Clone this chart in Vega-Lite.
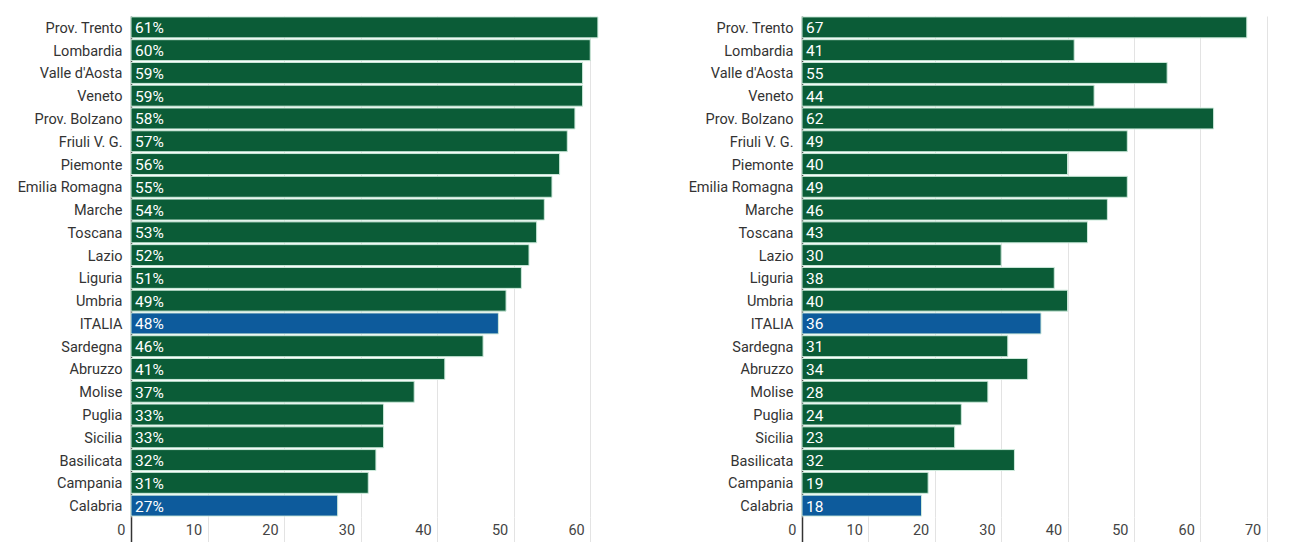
{
  "$schema": "https://vega.github.io/schema/vega-lite/v6.json",
  "padding": {"left": 5, "top": 16, "right": 5, "bottom": 0},
  "background": "white",
  "spacing": 42,
  "config": {
    "font": "Roboto",
    "view": {"stroke": null},
    "axis": {"labelFont": "Roboto"}
  },
  "datasets": {
    "regioni": [
      {"region": "Prov. Trento", "left": 61, "right": 67},
      {"region": "Lombardia", "left": 60, "right": 41},
      {"region": "Valle d'Aosta", "left": 59, "right": 55},
      {"region": "Veneto", "left": 59, "right": 44},
      {"region": "Prov. Bolzano", "left": 58, "right": 62},
      {"region": "Friuli V. G.", "left": 57, "right": 49},
      {"region": "Piemonte", "left": 56, "right": 40},
      {"region": "Emilia Romagna", "left": 55, "right": 49},
      {"region": "Marche", "left": 54, "right": 46},
      {"region": "Toscana", "left": 53, "right": 43},
      {"region": "Lazio", "left": 52, "right": 30},
      {"region": "Liguria", "left": 51, "right": 38},
      {"region": "Umbria", "left": 49, "right": 40},
      {"region": "ITALIA", "left": 48, "right": 36},
      {"region": "Sardegna", "left": 46, "right": 31},
      {"region": "Abruzzo", "left": 41, "right": 34},
      {"region": "Molise", "left": 37, "right": 28},
      {"region": "Puglia", "left": 33, "right": 24},
      {"region": "Sicilia", "left": 33, "right": 23},
      {"region": "Basilicata", "left": 32, "right": 32},
      {"region": "Campania", "left": 31, "right": 19},
      {"region": "Calabria", "left": 27, "right": 18}
    ]
  },
  "hconcat": [
    {
      "width": 509,
      "height": 501,
      "data": {"name": "regioni"},
      "transform": [{"calculate": "datum.left + '%'", "as": "label"}],
      "encoding": {
        "y": {
          "field": "region", "type": "nominal", "sort": null, "title": null,
          "scale": {"paddingInner": 0.08, "paddingOuter": 0.04},
          "axis": {"domain": true, "domainColor": "#333", "domainWidth": 1.5, "ticks": false, "labelPadding": 9, "labelOffset": 1.5, "labelFontSize": 14.5, "labelColor": "#333", "minExtent": 126, "maxExtent": 126}
        },
        "x": {
          "field": "left", "type": "quantitative", "title": null,
          "scale": {"domain": [0, 66.5], "nice": false},
          "axis": {"values": [0, 10, 20, 30, 40, 50, 60], "grid": true, "gridColor": "#e3e3e3", "domain": false, "ticks": true, "tickSize": 25,
            "tickColor": {"condition": {"test": "datum.value === 0", "value": "#333"}, "value": "#e3e3e3"},
            "tickWidth": {"condition": {"test": "datum.value === 0", "value": 1.5}, "value": 1},
            "labelFlush": false,
            "labelAlign": "right", "labelBaseline": "middle", "labelOffset": -6, "labelPadding": -12, "labelFontSize": 14.5, "labelColor": "#444"}
        }
      },
      "layer": [
        {
          "mark": {"type": "bar", "stroke": "#cdeadb", "strokeWidth": 1},
          "encoding": {
            "color": {"condition": {"test": "datum.region === 'ITALIA' || datum.region === 'Calabria'", "value": "#0d5b9c"}, "value": "#0b5c37"}
          }
        },
        {
          "mark": {"type": "text", "align": "left", "dx": 4, "dy": 1, "color": "white", "fontSize": 15.5, "fontWeight": "normal", "baseline": "middle"},
          "encoding": {"x": {"datum": 0, "type": "quantitative"}, "text": {"field": "label"}}
        }
      ]
    },
    {
      "width": 478,
      "height": 501,
      "data": {"name": "regioni"},
      "encoding": {
        "y": {
          "field": "region", "type": "nominal", "sort": null, "title": null,
          "scale": {"paddingInner": 0.08, "paddingOuter": 0.04},
          "axis": {"domain": true, "domainColor": "#333", "domainWidth": 1.5, "ticks": false, "labelPadding": 9, "labelOffset": 1.5, "labelFontSize": 14.5, "labelColor": "#333", "minExtent": 120, "maxExtent": 120}
        },
        "x": {
          "field": "right", "type": "quantitative", "title": null,
          "scale": {"domain": [0, 72], "nice": false},
          "axis": {"values": [0, 10, 20, 30, 40, 50, 60, 70], "grid": true, "gridColor": "#e3e3e3", "domain": false, "ticks": true, "tickSize": 25,
            "tickColor": {"condition": {"test": "datum.value === 0", "value": "#333"}, "value": "#e3e3e3"},
            "tickWidth": {"condition": {"test": "datum.value === 0", "value": 1.5}, "value": 1},
            "labelFlush": false,
            "labelAlign": "right", "labelBaseline": "middle", "labelOffset": -6, "labelPadding": -12, "labelFontSize": 14.5, "labelColor": "#444"}
        }
      },
      "layer": [
        {
          "mark": {"type": "bar", "stroke": "#cdeadb", "strokeWidth": 1},
          "encoding": {
            "color": {"condition": {"test": "datum.region === 'ITALIA' || datum.region === 'Calabria'", "value": "#0d5b9c"}, "value": "#0b5c37"}
          }
        },
        {
          "mark": {"type": "text", "align": "left", "dx": 4, "dy": 1, "color": "white", "fontSize": 15.5, "fontWeight": "normal", "baseline": "middle"},
          "encoding": {"x": {"datum": 0, "type": "quantitative"}, "text": {"field": "right"}}
        }
      ]
    }
  ]
}
